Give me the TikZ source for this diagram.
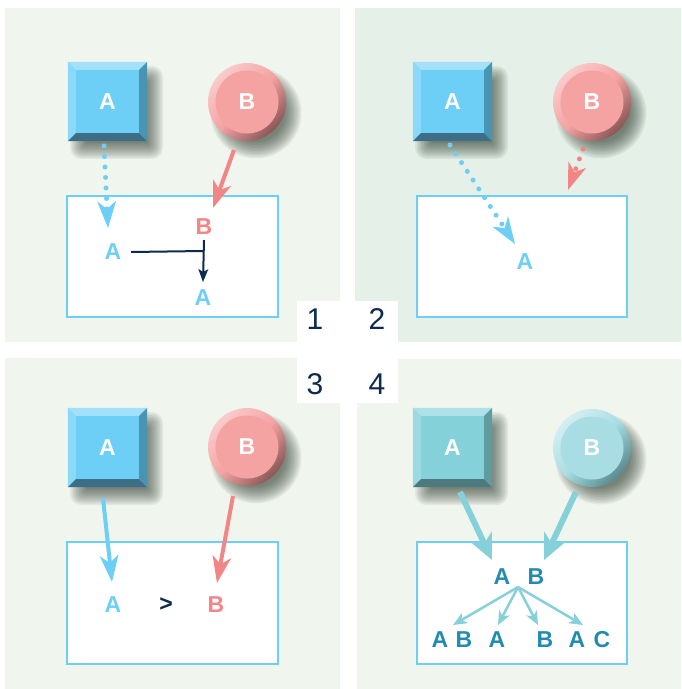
\documentclass[tikz,border=0pt]{standalone}
\usepackage{fontspec}
\setmainfont{Liberation Sans}
\usetikzlibrary{arrows.meta}
\definecolor{bgA}{HTML}{F0F5EE}
\definecolor{bgB}{HTML}{E5F0E8}
\definecolor{navy}{HTML}{0E2A4C}
\definecolor{skyblue}{HTML}{6DCFF6}
\definecolor{pinkarr}{HTML}{F28585}
\definecolor{tealarr}{HTML}{86D1D9}
\definecolor{tealtxt}{HTML}{228BB0}
\definecolor{shadowcol}{HTML}{2A3A2A}
% blue square palette
\definecolor{bluemain}{HTML}{6DCFF6}
\definecolor{bluetop}{HTML}{A2E1F9}
\definecolor{blueleft}{HTML}{8BD9F8}
\definecolor{blueright}{HTML}{4A94B3}
\definecolor{bluebottom}{HTML}{3D6E86}
% teal square palette
\definecolor{tealmain}{HTML}{84D1D9}
\definecolor{tealtop}{HTML}{AEE2E8}
\definecolor{tealleft}{HTML}{9ADAE0}
\definecolor{tealright}{HTML}{5E9CA2}
\definecolor{tealbottom}{HTML}{4C7A7F}
% pink circle palette
\definecolor{pinkmain}{HTML}{F4A3A2}
\definecolor{pinkhi}{HTML}{FACBCB}
\definecolor{pinklo}{HTML}{8A5757}
% teal circle palette
\definecolor{tcmain}{HTML}{A8DDE3}
\definecolor{tchi}{HTML}{D4EFF2}
\definecolor{tclo}{HTML}{5A8A8F}

\newcommand{\bevelbox}[4]{%
  \foreach \i in {0,...,11}
    \fill[shadowcol, opacity=0.07, rounded corners=\i pt]
      ({#2+9-30-1.5*\i},{#3+11-30-1.5*\i}) rectangle ({#2+9+30+1.5*\i},{#3+11+30+1.5*\i});
  \node[fill=#4main, minimum size=79pt, inner sep=0pt] (#1) at (#2,#3) {};
  \fill[#4top] (#1.north west) -- (#1.north east) -- ([xshift=-8pt,yshift=-8pt]#1.north east) -- ([xshift=8pt,yshift=-8pt]#1.north west) -- cycle;
  \fill[#4left] (#1.north west) -- (#1.south west) -- ([xshift=8pt,yshift=8pt]#1.south west) -- ([xshift=8pt,yshift=-8pt]#1.north west) -- cycle;
  \fill[#4right] (#1.north east) -- (#1.south east) -- ([xshift=-8pt,yshift=8pt]#1.south east) -- ([xshift=-8pt,yshift=-8pt]#1.north east) -- cycle;
  \fill[#4bottom] (#1.south west) -- (#1.south east) -- ([xshift=-8pt,yshift=8pt]#1.south east) -- ([xshift=8pt,yshift=8pt]#1.south west) -- cycle;
  \node[lettr, white] at (#1) {A};
}
\newcommand{\ballnode}[4]{%
  \foreach \i in {0,...,11}
    \fill[shadowcol, opacity=0.07] ({#2+9},{#3+11}) circle ({29+1.5*\i});
  \node[circle, minimum size=78pt, inner sep=0pt, top color=#4hi, bottom color=#4lo, middle color=#4main, shading angle=45] (#1) at (#2,#3) {};
  \fill[#4main] (#1.center) circle (31.5pt);
  \node[lettr, white] at (#1) {B};
}

\begin{document}
\begin{tikzpicture}[x=1pt,y=-1pt,
  lettr/.style={font=\bfseries\fontsize{23}{23}\selectfont, inner sep=0pt},
  numlbl/.style={font=\fontsize{30}{30}\selectfont, text=navy, inner sep=0pt},
  panelbox/.style={draw=skyblue, line width=2.6pt, fill=white, inner sep=0pt},
  dotline/.style={line width=5pt, line cap=round, dash pattern=on 0pt off 10.5pt},
  bigtip/.style={-{Stealth[length=27pt,width=19pt,inset=8pt,line width=0pt]}},
  fattip/.style={-{Stealth[length=26pt,width=24pt,inset=8pt,line width=0pt]}},
  smalltip/.style={-{Stealth[length=14pt,width=12pt,inset=4pt,line width=0pt]}},
  navytip/.style={-{Stealth[length=13pt,width=10pt,inset=3pt,line width=0pt]}}]
\useasboundingbox (0,0) rectangle (681,689);
\fill[white] (0,0) rectangle (681,689);
% panel backgrounds
\fill[bgA] (5,8) rectangle (340,342);
\fill[bgB] (355,8) rectangle (681,342);
\fill[bgA] (5,358) rectangle (340,689);
\fill[bgA] (357,359) rectangle (681,689);
\fill[white] (297,301) rectangle (398,403);
% numbers
\node[numlbl] (n1) at (315,319) {1};
\node[numlbl] (n2) at (377,319) {2};
\node[numlbl] (n3) at (315,384) {3};
\node[numlbl] (n4) at (377,384) {4};

% ---------- panel 1 ----------
\bevelbox{sqA1}{107.5}{101.5}{blue}
\ballnode{ciB1}{247}{102}{pink}
\node[panelbox, minimum width=211pt, minimum height=121pt] (r1) at (172.5,256.5) {};
\node[lettr, text=skyblue] (a1) at (113,252) {A};
\node[lettr, text=pinkarr] (b1) at (204,227) {B};
\node[lettr, text=skyblue] (a1b) at (203,298) {A};
\coordinate (p1s) at (104,146);
\coordinate (p1e) at (108,228);
\draw[skyblue, dotline, bigtip] (p1s) -- (p1e);
\coordinate (q1s) at (234,150);
\coordinate (q1e) at (213,208);
\draw[pinkarr, line width=4pt, bigtip] (q1s) -- (q1e);
\coordinate (t1) at (203,251);
\draw[navy, line width=2pt] ([xshift=18pt]a1.center) -- (t1);
\draw[navy, line width=2pt, navytip] ([yshift=-13pt]b1.center) -- ([yshift=16pt]a1b.center);

% ---------- panel 2 ----------
\bevelbox{sqA2}{452.5}{101.5}{blue}
\ballnode{ciB2}{592}{102}{pink}
\node[panelbox, minimum width=210pt, minimum height=121pt] (r2) at (522,256.5) {};
\node[lettr, text=skyblue] (a2) at (525,262) {A};
\coordinate (p2s) at (450,145);
\coordinate (p2e) at (515,244);
\draw[skyblue, dotline, bigtip] (p2s) -- (p2e);
\coordinate (q2s) at (583,149);
\coordinate (q2e) at (568,190);
\draw[pinkarr, dotline, bigtip] (q2s) -- (q2e);

% ---------- panel 3 ----------
\bevelbox{sqA3}{107.5}{447.5}{blue}
\ballnode{ciB3}{247}{447}{pink}
\node[panelbox, minimum width=211pt, minimum height=122pt] (r3) at (172.5,603) {};
\node[lettr, text=skyblue] (a3) at (113,605) {A};
\node[lettr, text=navy] (gt3) at (166,605) {>};
\node[lettr, text=pinkarr] (b3) at (216,605) {B};
\coordinate (p3s) at (103,498);
\coordinate (p3e) at (112,582);
\draw[skyblue, line width=4pt, bigtip] (p3s) -- (p3e);
\coordinate (q3s) at (233,496);
\coordinate (q3e) at (217,583);
\draw[pinkarr, line width=4pt, bigtip] (q3s) -- (q3e);

% ---------- panel 4 ----------
\bevelbox{sqA4}{452.5}{447.5}{teal}
\ballnode{ciB4}{592}{448}{tc}
\node[panelbox, minimum width=210pt, minimum height=122pt] (r4) at (522,603) {};
\node[lettr, text=tealtxt] (a4) at (502,577) {A};
\node[lettr, text=tealtxt] (b4) at (536,577) {B};
\coordinate (p4s) at (460,492);
\coordinate (p4e) at (492,560);
\draw[tealarr, line width=6pt, fattip] (p4s) -- (p4e);
\coordinate (q4s) at (576,492);
\coordinate (q4e) at (544,560);
\draw[tealarr, line width=6pt, fattip] (q4s) -- (q4e);
\coordinate (fan) at (518,587);
\node[lettr, text=tealtxt] (o1) at (440,640) {A};
\node[lettr, text=tealtxt] (o2) at (464,640) {B};
\node[lettr, text=tealtxt] (o3) at (497,640) {A};
\node[lettr, text=tealtxt] (o4) at (545,640) {B};
\node[lettr, text=tealtxt] (o5) at (577,640) {A};
\node[lettr, text=tealtxt] (o6) at (602,640) {C};
\coordinate (f1) at (453,625);
\coordinate (f2) at (498,625);
\coordinate (f3) at (538,625);
\coordinate (f4) at (583,625);
\foreach \f in {f1,f2,f3,f4}
  \draw[tealarr, line width=2.5pt, smalltip] (fan) -- (\f);
\end{tikzpicture}
\end{document}
